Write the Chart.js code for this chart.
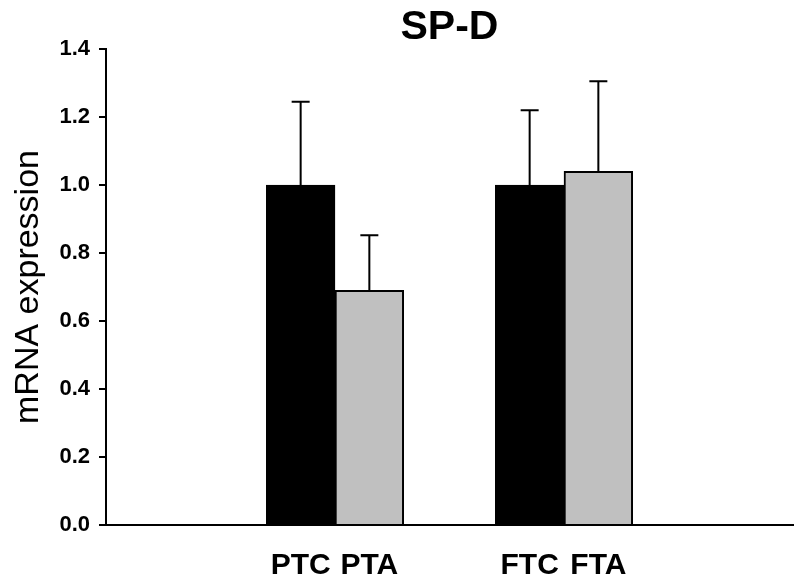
<!DOCTYPE html>
<html>
<head>
<meta charset="utf-8">
<script src="https://cdn.jsdelivr.net/npm/chart.js@4"></script>
<style>
  body { margin: 0; background: #fff; }
  #wrap { width: 800px; height: 578px; }
</style>
</head>
<body>
<div id="wrap"><canvas id="spd-chart"></canvas></div>
<script>
// Données
const groupes = [1, 2];                       // P (pré-terme), F (à terme)
const etiquettes = ['PTC', 'PTA', 'FTC', 'FTA'];
const controleMoy = [1.0, 1.0];               // PTC, FTC
const controleSE = [0.245, 0.22];
const traiteMoy = [0.69, 1.04];               // PTA, FTA
const traiteSE = [0.162, 0.265];
const yMin = 0, yMax = 1.4, yPas = 0.2;
const xMin = 0, xMax = 3;

const decalage = 0.15;                        // demi-écart entre contrôle et traité dans un groupe
const positionsControle = groupes.map(g => g - decalage);
const positionsTraite = groupes.map(g => g + decalage);
const positionsEtiquettes = groupes.flatMap((g, i) => [positionsControle[i], positionsTraite[i]]);

// Barres d'erreur (uniquement vers le haut)
const barresErreur = {
    id: 'barresErreur',
    afterDatasetsDraw(chart) {
        const ctx = chart.ctx;
        const y = chart.scales.y;
        ctx.save();
        ctx.strokeStyle = '#000';
        ctx.lineWidth = 2;
        chart.data.datasets.forEach((ds, d) => {
            const meta = chart.getDatasetMeta(d);
            meta.data.forEach((bar, i) => {
                const haut = y.getPixelForValue(ds.data[i].y + ds.erreurs[i]);
                ctx.beginPath();
                ctx.moveTo(bar.x, bar.y);
                ctx.lineTo(bar.x, haut);
                ctx.moveTo(bar.x - 9, haut);
                ctx.lineTo(bar.x + 9, haut);
                ctx.stroke();
            });
        });
        ctx.restore();
    }
};

const police = 'Liberation Sans, Arial, sans-serif';
const ctx = document.getElementById('spd-chart').getContext('2d');
const graphique = new Chart(ctx, {
    type: 'bar',
    data: {
        datasets: [{
            label: 'Contrôle',
            data: positionsControle.map((x, i) => ({ x: x, y: controleMoy[i] })),
            erreurs: controleSE,
            backgroundColor: '#000000',
            borderColor: '#000000',
            borderWidth: 2
        }, {
            label: 'Traité',
            data: positionsTraite.map((x, i) => ({ x: x, y: traiteMoy[i] })),
            erreurs: traiteSE,
            backgroundColor: '#c0c0c0',
            borderColor: '#000000',
            borderWidth: 2
        }]
    },
    options: {
        responsive: true,
        maintainAspectRatio: false,
        animation: false,
        grouped: false,
        categoryPercentage: 1,
        barPercentage: 1,
        layout: { padding: { left: 0, right: 7, top: 0, bottom: 0 } },
        plugins: {
            legend: { display: false },
            tooltip: { enabled: false },
            title: {
                display: true,
                text: 'SP-D',
                fullSize: false,
                color: '#000',
                font: { family: police, size: 41, weight: 'bold', lineHeight: 1.0 },
                padding: { top: 7, bottom: 1 }
            }
        },
        scales: {
            x: {
                type: 'linear',
                min: xMin,
                max: xMax,
                offset: false,
                grid: { display: false },
                border: { display: true, color: '#000', width: 2 },
                afterBuildTicks: s => { s.ticks = positionsEtiquettes.map(v => ({ value: v })); },
                afterFit: s => { s.height = 53; },
                ticks: {
                    autoSkip: false,
                    maxRotation: 0,
                    minRotation: 0,
                    padding: 15,
                    color: '#000',
                    font: { family: police, size: 30, weight: 'bold' },
                    callback: (v, i) => etiquettes[i]
                }
            },
            y: {
                min: yMin,
                max: yMax,
                grid: { display: true, drawOnChartArea: false, drawTicks: true, tickLength: 7, color: '#000', lineWidth: 2 },
                border: { display: true, color: '#000', width: 2 },
                afterFit: s => { s.width = 106; },
                ticks: {
                    stepSize: yPas,
                    padding: 9,
                    color: '#000',
                    font: { family: police, size: 22, weight: 'bold' },
                    callback: v => v.toFixed(1)
                },
                title: {
                    display: true,
                    text: 'mRNA expression',
                    color: '#000',
                    font: { family: police, size: 34 },
                    padding: { top: 8, bottom: 0 }
                }
            }
        }
    },
    plugins: [barresErreur]
});
</script>
</body>
</html>
